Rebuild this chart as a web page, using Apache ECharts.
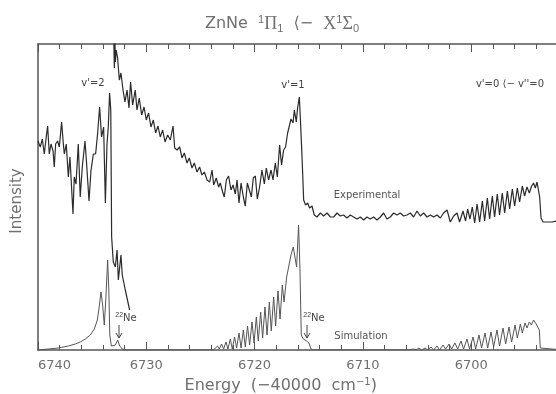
<!DOCTYPE html>
<html>
<head>
<meta charset="utf-8">
<script src="https://cdn.jsdelivr.net/npm/echarts@6/dist/echarts.min.js"></script>
<style>
  html, body { margin: 0; padding: 0; background: #fff; }
  #chart { width: 556px; height: 394px; }
</style>
</head>
<body>
<div id="chart"></div>
<script>
// ZnNe 1Pi1 <- X1Sigma0 spectrum, experimental vs simulation
const tickLabels = [6740, 6730, 6720, 6710, 6700];

// experimental scan up to the v'=2 head and its tail
const expLeft = [
  [6740.0, 209], [6739.79, 203], [6739.6, 211], [6739.42, 196], [6739.23, 214],
  [6739.11, 224], [6738.96, 196], [6738.8, 206], [6738.61, 199], [6738.5, 183],
  [6738.37, 206], [6738.19, 209], [6738.03, 203], [6737.82, 228], [6737.66, 206],
  [6737.57, 196], [6737.39, 206], [6737.2, 173], [6737.05, 193], [6736.77, 136],
  [6736.65, 173], [6736.49, 166], [6736.28, 206], [6736.1, 153], [6735.91, 183],
  [6735.66, 209], [6735.51, 186], [6735.29, 149], [6735.11, 179], [6734.89, 196],
  [6734.68, 196], [6734.5, 216], [6734.31, 243], [6734.13, 213], [6733.94, 223],
  [6733.78, 147], [6733.63, 206], [6733.51, 223], [6733.39, 257], [6733.28, 240],
  [6733.2, 113], [6733.05, 88], [6732.86, 83], [6732.7, 100], [6732.58, 70],
  [6732.34, 95], [6732.22, 75], [6731.94, 60], [6731.54, 40]
];

// experimental scan from v'=2 side across v'=1 and v'=0
const expRight = [
  [6733.02, 320], [6732.95, 282], [6732.9, 312], [6732.86, 288], [6732.78, 300],
  [6732.65, 292], [6732.49, 270], [6732.34, 277], [6732.15, 260], [6731.97, 248],
  [6731.78, 260], [6731.6, 242], [6731.45, 268], [6731.26, 245], [6731.02, 260],
  [6730.86, 240], [6730.65, 252], [6730.43, 235], [6730.21, 243], [6730.0, 230],
  [6729.79, 237], [6729.57, 223], [6729.35, 230], [6729.14, 217], [6728.92, 224],
  [6728.71, 213], [6728.49, 220], [6728.27, 208], [6728.03, 215], [6727.78, 210],
  [6727.53, 224], [6727.38, 202], [6727.16, 200], [6726.92, 203], [6726.7, 192],
  [6726.49, 197], [6726.24, 187], [6726.03, 192], [6725.78, 182], [6725.57, 187],
  [6725.32, 178], [6725.08, 183], [6724.86, 175], [6724.64, 178], [6724.39, 170],
  [6724.15, 168], [6723.93, 180], [6723.78, 165], [6723.54, 172], [6723.32, 163],
  [6723.17, 167], [6722.95, 158], [6722.8, 153], [6722.61, 170], [6722.4, 174],
  [6722.18, 160], [6721.99, 165], [6721.78, 156], [6721.62, 170], [6721.44, 147],
  [6721.25, 167], [6721.04, 153], [6720.86, 144], [6720.67, 167], [6720.49, 160],
  [6720.3, 153], [6720.12, 172], [6719.93, 174], [6719.75, 151], [6719.54, 163],
  [6719.32, 180], [6719.1, 166], [6718.92, 182], [6718.71, 170], [6718.48, 180],
  [6718.3, 170], [6718.09, 187], [6717.9, 173], [6717.69, 205], [6717.51, 185],
  [6717.32, 200], [6717.14, 203], [6716.95, 217], [6716.77, 218], [6716.64, 231],
  [6716.45, 227], [6716.33, 240], [6716.15, 228], [6716.03, 242], [6715.87, 253],
  [6715.78, 233], [6715.62, 193], [6715.47, 150], [6715.29, 145], [6715.1, 147],
  [6714.92, 142], [6714.7, 144], [6714.49, 135], [6714.24, 133], [6713.93, 137],
  [6713.63, 134], [6713.31, 137], [6713.0, 133], [6712.7, 133], [6712.39, 137],
  [6712.09, 134], [6711.78, 135], [6711.47, 132], [6711.16, 135], [6710.86, 133],
  [6710.54, 131], [6710.24, 133], [6709.93, 130], [6709.62, 133], [6709.32, 131],
  [6709.01, 133], [6708.7, 130], [6708.39, 133], [6708.09, 137], [6707.78, 131],
  [6707.47, 133], [6707.16, 137], [6706.85, 135], [6706.55, 137], [6706.24, 134],
  [6705.93, 135], [6705.62, 137], [6705.32, 133], [6705.0, 139], [6704.7, 134],
  [6704.39, 137], [6704.08, 133], [6703.77, 135], [6703.47, 133], [6703.16, 135],
  [6702.85, 132], [6702.55, 137], [6702.23, 140], [6701.93, 128], [6701.62, 134],
  [6701.31, 137], [6701.07, 128], [6700.76, 139], [6700.52, 129], [6700.33, 141],
  [6700.11, 131], [6699.9, 143], [6699.68, 127], [6699.46, 146], [6699.22, 128],
  [6698.97, 149], [6698.76, 129], [6698.51, 152], [6698.3, 131], [6698.05, 154],
  [6697.84, 133], [6697.59, 156], [6697.38, 135], [6697.13, 157], [6696.91, 137],
  [6696.66, 159], [6696.45, 141], [6696.2, 161], [6695.99, 144], [6695.74, 162],
  [6695.53, 148], [6695.28, 164], [6695.07, 154], [6694.85, 163], [6694.63, 157],
  [6694.42, 164], [6694.24, 167], [6694.08, 162], [6693.92, 168], [6693.74, 167],
  [6693.68, 153], [6693.55, 132], [6693.37, 128], [6693.0, 128], [6692.54, 128],
  [6692.14, 129], [6691.5, 129]
];

// simulated spectrum
const simTrace = [
  [6740.0, 0], [6739.05, 1], [6738.13, 2], [6737.2, 4], [6736.56, 6],
  [6736.09, 8], [6735.63, 11], [6735.17, 15], [6734.8, 21], [6734.52, 30],
  [6734.34, 44], [6734.18, 58], [6734.03, 45], [6733.88, 25], [6733.74, 50],
  [6733.57, 90], [6733.46, 60], [6733.37, 15], [6733.23, 4], [6733.05, 3],
  [6732.86, 5], [6732.65, 10], [6732.45, 4], [6732.22, 1], [6731.85, 0],
  [6723.81, 0], [6723.42, 4], [6723.26, 1], [6723.05, 6], [6722.86, 1],
  [6722.64, 8], [6722.46, 1], [6722.24, 11], [6722.06, 1], [6721.85, 13],
  [6721.66, 2], [6721.44, 17], [6721.25, 2], [6721.04, 20], [6720.86, 3],
  [6720.65, 24], [6720.46, 5], [6720.24, 28], [6720.05, 7], [6719.84, 33],
  [6719.66, 9], [6719.44, 38], [6719.26, 12], [6719.04, 43], [6718.85, 15],
  [6718.64, 48], [6718.46, 19], [6718.24, 53], [6718.06, 24], [6717.84, 59],
  [6717.65, 31], [6717.44, 65], [6717.28, 48], [6717.04, 73], [6716.82, 85],
  [6716.64, 95], [6716.43, 103], [6716.27, 104], [6716.12, 83], [6715.94, 125],
  [6715.81, 80], [6715.69, 15], [6715.5, 11], [6715.2, 9], [6714.98, 7],
  [6714.79, 1], [6714.58, 0], [6705.81, 0], [6705.34, 1], [6705.1, 0],
  [6704.82, 2], [6704.58, 0], [6704.26, 2], [6704.02, 0], [6703.71, 3],
  [6703.47, 0], [6703.16, 4], [6702.92, 0], [6702.6, 5], [6702.36, 1],
  [6702.05, 6], [6701.81, 1], [6701.5, 7], [6701.25, 1], [6700.94, 9],
  [6700.7, 1], [6700.39, 11], [6700.15, 1], [6699.83, 13], [6699.59, 1],
  [6699.28, 15], [6699.04, 2], [6698.72, 17], [6698.48, 2], [6698.17, 18],
  [6697.93, 3], [6697.62, 20], [6697.38, 4], [6697.06, 22], [6696.82, 6],
  [6696.51, 23], [6696.27, 8], [6695.95, 25], [6695.74, 12], [6695.46, 26],
  [6695.28, 17], [6695.03, 27], [6694.85, 22], [6694.63, 28], [6694.45, 25],
  [6694.24, 30], [6694.05, 27], [6693.87, 29], [6693.71, 20], [6693.62, 2],
  [6693.5, 0], [6691.5, 0]
];

const grey = '#6f6f6f';
const frame = '#555';

const chart = echarts.init(document.getElementById('chart'), null, { renderer: 'canvas' });

const baseX = {
  type: 'value',
  min: 6690,
  max: 6740,
  interval: 10,
  inverse: true,
  axisLine: { show: true, lineStyle: { color: frame, width: 1.5 } },
  axisTick: { show: true, inside: true, length: 8, lineStyle: { color: frame, width: 1 } },
  minorTick: { show: true, splitNumber: 5, length: 5, lineStyle: { color: frame, width: 1 } },
  splitLine: { show: false },
};

const option = {
  backgroundColor: '#fff',
  animation: false,
  // plot frame runs past the right edge of the picture
  grid: { left: 38, top: 44, height: 306, width: 541.5, outerBoundsMode: 'none', containLabel: false },
  xAxis: [
    Object.assign({}, baseX, {
      position: 'bottom',
      name: 'Energy  (\u221240000  cm{sup|\u22121})',
      nameLocation: 'middle',
      nameGap: 27,
      nameTextStyle: {
        color: grey, fontSize: 16, fontFamily: 'DejaVu Sans', fontWeight: 'normal',
        padding: [0, 56, 0, 0],
        rich: { sup: { fontSize: 10, verticalAlign: 'top', padding: [0, 0, 8, 0], color: grey } },
      },
      axisLabel: {
        show: true, color: grey, fontSize: 13, margin: 9,
        fontFamily: 'DejaVu Sans',
        formatter: v => (tickLabels.indexOf(v) >= 0 ? String(v) : ''),
        alignMaxLabel: 'left',
      },
    }),
    Object.assign({}, baseX, {
      position: 'top',
      axisLabel: { show: false },
    }),
  ],
  yAxis: {
    type: 'value',
    min: 0,
    max: 306,
    position: 'left',
    axisLine: { show: true, onZero: false, lineStyle: { color: frame, width: 1.5 } },
    axisTick: { show: false },
    axisLabel: { show: false },
    splitLine: { show: false },
  },
  series: [
    {
      name: 'Experimental', type: 'line', data: expLeft, showSymbol: false,
      lineStyle: { color: '#2b2b2b', width: 1.2 }, clip: true, z: 3,
    },
    {
      name: 'Experimental', type: 'line', data: expRight, showSymbol: false,
      lineStyle: { color: '#2b2b2b', width: 1.2 }, clip: true, z: 3,
    },
    {
      name: 'Simulation', type: 'line', data: simTrace, showSymbol: false,
      lineStyle: { color: '#555', width: 1 }, clip: true, z: 2,
    },
  ],
  graphic: [
    {
      type: 'text', x: 282, y: 24,
      style: {
        text: 'ZnNe  {sup|1}{g|\u03A0}{sub|1}  \u27E8\u2212  {g|X}{sup|1}{g|\u03A3}{sub|0}',
        fill: grey, font: '16px "DejaVu Sans"', align: 'center', verticalAlign: 'middle',
        rich: {
          g: { fontFamily: 'Liberation Serif', fontSize: 18, fill: grey },
          sup: { fontSize: 11, verticalAlign: 'top', padding: [0, 0, 9, 0], fill: grey },
          sub: { fontSize: 11, verticalAlign: 'bottom', padding: [6, 0, 0, 0], fill: grey },
        },
      },
    },
    {
      type: 'text', x: 17, y: 201, rotation: Math.PI / 2,
      style: { text: 'Intensity', fill: grey, font: '15px "DejaVu Sans"', align: 'center', verticalAlign: 'middle' },
    },
    { type: 'text', x: 93, y: 83, style: { text: "v'=2", fill: '#444', font: '10px "DejaVu Sans"', align: 'center', verticalAlign: 'middle' } },
    { type: 'text', x: 293, y: 85, style: { text: "v'=1", fill: '#444', font: '10px "DejaVu Sans"', align: 'center', verticalAlign: 'middle' } },
    { type: 'text', x: 510, y: 84, style: { text: "v'=0 \u27E8\u2212 v''=0", fill: '#444', font: '10px "DejaVu Sans"', align: 'center', verticalAlign: 'middle' } },
    { type: 'text', x: 367, y: 195, style: { text: 'Experimental', fill: '#555', font: '10px "DejaVu Sans"', align: 'center', verticalAlign: 'middle' } },
    { type: 'text', x: 361, y: 336, style: { text: 'Simulation', fill: '#555', font: '10px "DejaVu Sans"', align: 'center', verticalAlign: 'middle' } },
    {
      type: 'text', x: 126, y: 318,
      style: { text: '{s|22}Ne', fill: '#444', font: '10px "DejaVu Sans"', align: 'center', verticalAlign: 'middle',
        rich: { s: { fontSize: 7, verticalAlign: 'top', padding: [0, 0, 5, 0], fill: '#444' } } },
    },
    { type: 'polyline', shape: { points: [[119, 325], [119, 338]] }, style: { stroke: '#444', lineWidth: 1 } },
    { type: 'polyline', shape: { points: [[116, 333], [119, 338], [122, 333]] }, style: { stroke: '#444', lineWidth: 1, fill: null } },
    {
      type: 'text', x: 314, y: 318,
      style: { text: '{s|22}Ne', fill: '#444', font: '10px "DejaVu Sans"', align: 'center', verticalAlign: 'middle',
        rich: { s: { fontSize: 7, verticalAlign: 'top', padding: [0, 0, 5, 0], fill: '#444' } } },
    },
    { type: 'polyline', shape: { points: [[307, 325], [307, 338]] }, style: { stroke: '#444', lineWidth: 1 } },
    { type: 'polyline', shape: { points: [[304, 333], [307, 338], [310, 333]] }, style: { stroke: '#444', lineWidth: 1, fill: null } },
  ],
};

chart.setOption(option);
</script>
</body>
</html>
